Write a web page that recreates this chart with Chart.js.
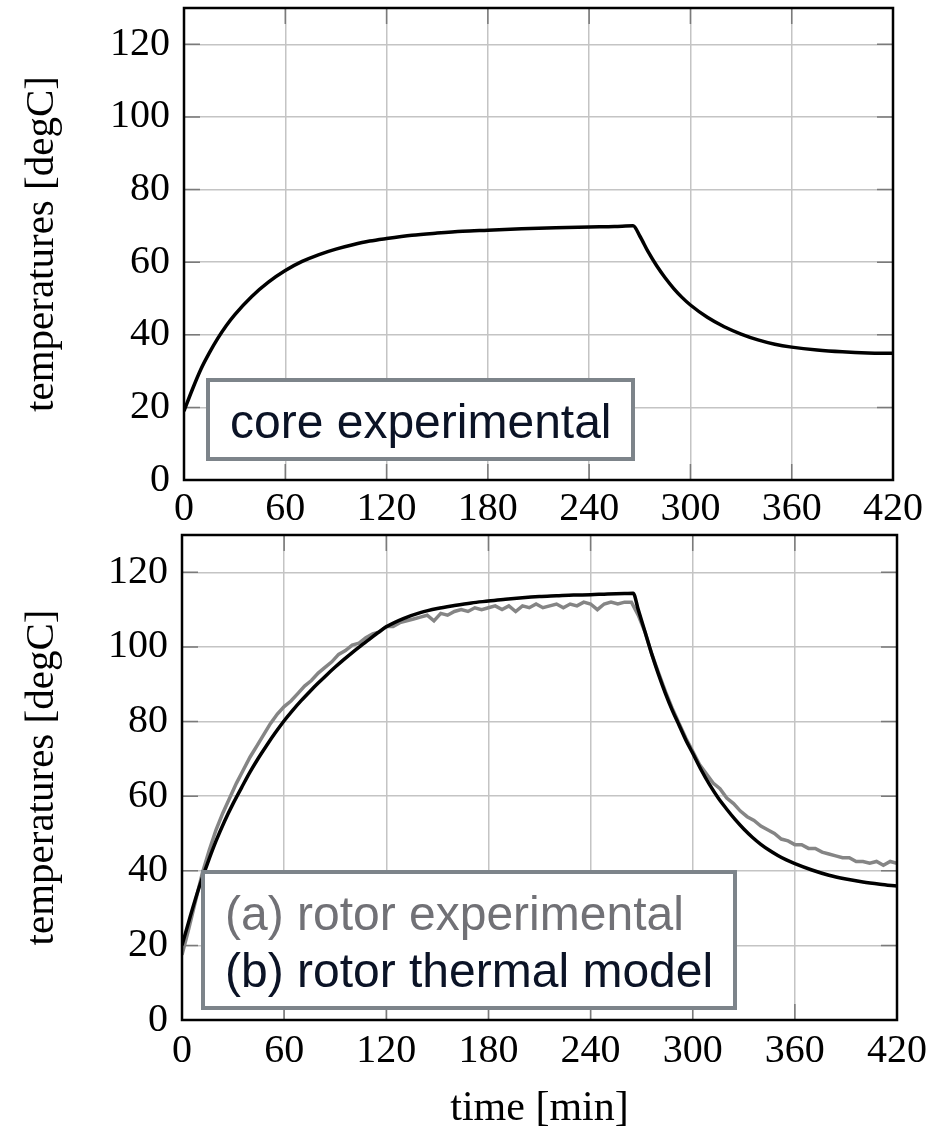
<!DOCTYPE html>
<html>
<head>
<meta charset="utf-8">
<script src="https://cdn.jsdelivr.net/npm/chart.js@4/dist/chart.umd.min.js"></script>
<style>
    body { margin: 0; background: #fff; }
    canvas { display: block; }
</style>
</head>
<body>
<canvas id="core-line-chart" width="946" height="530"></canvas>
<canvas id="rotor-line-chart" width="946" height="604"></canvas>
<script>
// core experimental (top plot)
const coreTime = [0, 5, 10, 15, 20, 25, 30, 40, 50, 60, 70, 80, 90, 100, 110, 120, 135, 150, 165, 180, 200, 220, 240, 255, 266,
    270, 275, 280, 285, 290, 295, 300, 310, 320, 330, 340, 350, 360, 375, 390, 405, 420]
const coreTemp = [19, 25, 30.5, 35, 39, 42.5, 45.5, 50.5, 54.5, 57.7, 60.2, 62.1, 63.6, 64.8, 65.8, 66.5, 67.4, 68, 68.5, 68.8, 69.2, 69.5, 69.7, 69.8, 70,
    67.2, 62.8, 59, 55.7, 52.8, 50.3, 48.2, 44.8, 42.2, 40.2, 38.6, 37.4, 36.6, 35.8, 35.3, 35, 34.9]

// rotor thermal model (bottom plot, black)
const modelTime = [0, 5, 10, 15, 20, 25, 30, 35, 40, 45, 50, 55, 60, 65, 70, 75, 80, 85, 90, 95, 100, 105, 110, 115, 120,
    130, 140, 150, 160, 170, 180, 190, 200, 210, 220, 230, 240, 250, 260, 265,
    268, 272, 276, 280, 284, 288, 292, 296, 300, 305, 310, 315, 320, 325, 330, 335, 340, 345, 350, 355, 360,
    370, 380, 390, 400, 410, 420]
const modelTemp = [20, 28, 35.5, 42, 48, 53.3, 58, 62.3, 66.5, 70.3, 73.8, 77.1, 80.2, 83, 85.6, 88, 90.3, 92.5, 94.6, 96.6, 98.5, 100.3, 102, 103.8, 105.4,
    107.6, 109.2, 110.3, 111.1, 111.8, 112.3, 112.8, 113.2, 113.5, 113.7, 113.9, 114, 114.2, 114.3, 114.4,
    110, 104, 98, 92.5, 87.5, 83, 79, 75, 71.5, 67, 63, 59.5, 56.5, 53.7, 51.2, 49, 47.1, 45.5, 44.1, 42.9, 41.9,
    40.2, 38.8, 37.8, 37, 36.4, 35.9]

// rotor experimental (bottom plot, grey), one sample every 4 min
const rotorTime = [0, 4, 8, 12, 16, 20, 24, 28, 32, 36, 40, 44, 48, 52, 56, 60, 64, 68, 72, 76, 80, 84, 88, 92, 96, 100,
    104, 108, 112, 116, 120, 124, 128, 132, 136, 140, 144, 148, 152, 156, 160, 164, 168, 172, 176, 180, 184, 188, 192, 196, 200,
    204, 208, 212, 216, 220, 224, 228, 232, 236, 240, 244, 248, 252, 256, 260, 264, 268, 272, 276, 280, 284, 288, 292, 296, 300,
    304, 308, 312, 316, 320, 324, 328, 332, 336, 340, 344, 348, 352, 356, 360, 364, 368, 372, 376, 380, 384, 388, 392, 396, 400,
    404, 408, 412, 416, 420]
const rotorTemp = [17.5, 24.5, 32, 39.5, 45.5, 51, 55.5, 59.5, 63.5, 67, 70.5, 73.5, 76.5, 79.5, 82, 84, 85.5, 87.5, 89.5, 91, 93, 94.5, 96, 98, 99, 100.5,
    101, 102.5, 103.5, 104, 105.5, 105.5, 106.5, 107, 107.5, 108, 108.5, 107, 109, 108.5, 109.5, 110, 109.5, 110.5, 110, 110.5, 111, 110, 111, 109.5, 111,
    110.5, 111.5, 110.5, 111, 111.5, 110.5, 111.5, 111, 112, 111.5, 110, 111.5, 112, 111.5, 112, 112, 108.5, 104, 98, 93, 88, 83.5, 79.5, 75.5, 72,
    68.5, 66, 63.5, 62, 59.5, 58, 56, 54.5, 53.5, 52, 51, 50, 48.5, 48, 47, 47, 46, 46, 45, 44.5, 44, 43.5, 43.5, 42.5, 42.5,
    42, 42.5, 41.5, 42.5, 42]

const serif = "'Liberation Serif', 'Times New Roman', serif"
const sans = "'Liberation Sans', Arial, sans-serif"

const toPoints = (xs, ys) => xs.map((x, i) => ({ x, y: ys[i] }))

// frame, inner tick marks and the boxed legend
const framePlugin = {
    id: 'frameBox',
    beforeDatasetsDraw(chart) {
        const { ctx, chartArea: a, scales } = chart
        ctx.save()
        ctx.strokeStyle = '#7a7a7a'
        ctx.lineWidth = 1.5
        ctx.beginPath()
        for (const t of scales.x.ticks) {
            const px = scales.x.getPixelForValue(t.value)
            ctx.moveTo(px, a.top); ctx.lineTo(px, a.top + 16)
            ctx.moveTo(px, a.bottom); ctx.lineTo(px, a.bottom - 16)
        }
        for (const t of scales.y.ticks) {
            const py = scales.y.getPixelForValue(t.value)
            ctx.moveTo(a.left, py); ctx.lineTo(a.left + 16, py)
            ctx.moveTo(a.right, py); ctx.lineTo(a.right - 16, py)
        }
        ctx.stroke()
        ctx.restore()
    },
    afterDatasetsDraw(chart, args, opts) {
        const { ctx, chartArea: a } = chart
        ctx.save()
        ctx.strokeStyle = '#000'
        ctx.lineWidth = 2.5
        ctx.strokeRect(a.left, a.top, a.right - a.left, a.bottom - a.top)

        const b = opts.box
        const left = a.left + b.dx
        const top = a.top + b.dy
        ctx.fillStyle = '#fff'
        ctx.fillRect(left, top, b.w, b.h)
        ctx.strokeStyle = '#7d848a'
        ctx.lineWidth = 4
        ctx.strokeRect(left, top, b.w, b.h)

        ctx.font = `48px ${sans}`
        ctx.textAlign = 'left'
        ctx.textBaseline = 'alphabetic'
        opts.lines.forEach((line, i) => {
            ctx.fillStyle = line.color
            ctx.fillText(line.text, left + 22, top + 58 + i * 57)
        })
        ctx.restore()
    }
}

const getLineChart = (selector, datasets, layout) => new Chart(document.querySelector(`#${selector}-line-chart`), {
    type: 'line',
    data: { datasets },
    plugins: [framePlugin],
    options: {
        responsive: false,
        animation: false,
        devicePixelRatio: 1,
        layout: { padding: { top: layout.top, right: layout.right, left: 0, bottom: 0 } },
        plugins: {
            legend: { display: false },
            tooltip: { enabled: false },
            frameBox: { box: layout.box, lines: layout.lines }
        },
        scales: {
            x: {
                type: 'linear',
                min: 0,
                max: 420,
                afterFit: scale => {
                    scale.height = layout.xHeight
                    scale.paddingLeft = 0
                    scale.paddingRight = 0
                },
                border: { display: false },
                grid: { color: '#c4c4c4', lineWidth: 1.5, drawTicks: false },
                ticks: { stepSize: 60, padding: layout.xPad, color: '#000', font: { family: serif, size: 40 }, maxRotation: 0 },
                title: {
                    display: !!layout.xTitle,
                    text: layout.xTitle,
                    color: '#000',
                    padding: { top: 0, bottom: 0 },
                    font: { family: serif, size: 42 }
                }
            },
            y: {
                min: 0,
                max: 130,
                afterFit: scale => {
                    scale.width = layout.yWidth
                    scale.paddingTop = 0
                    scale.paddingBottom = 0
                },
                border: { display: false },
                grid: { color: '#c4c4c4', lineWidth: 1.5, drawTicks: false },
                ticks: { stepSize: 20, includeBounds: false, padding: 14, color: '#000', font: { family: serif, size: 40 } },
                title: {
                    display: true,
                    text: 'temperatures [degC]',
                    color: '#000',
                    padding: { top: 18, bottom: 0 },
                    font: { family: serif, size: 41 }
                }
            }
        }
    }
})

getLineChart('core', [
    {
        data: toPoints(coreTime, coreTemp),
        borderColor: '#000',
        borderWidth: 3.5,
        pointRadius: 0,
        cubicInterpolationMode: 'monotone'
    }
], {
    top: 8, right: 53, yWidth: 184, xHeight: 50, xPad: 5,
    box: { dx: 24, dy: 372, w: 425, h: 79 },
    lines: [{ text: 'core experimental', color: '#0b1326' }]
})

getLineChart('rotor', [
    {
        data: toPoints(modelTime, modelTemp),
        borderColor: '#000',
        borderWidth: 3.5,
        pointRadius: 0,
        cubicInterpolationMode: 'monotone'
    },
    {
        data: toPoints(rotorTime, rotorTemp),
        borderColor: '#858585',
        borderWidth: 3.5,
        pointRadius: 0
    }
], {
    top: 5, right: 49, yWidth: 182, xHeight: 114, xPad: 7, xTitle: 'time [min]',
    box: { dx: 21, dy: 337, w: 532, h: 136 },
    lines: [
        { text: '(a) rotor experimental', color: '#717176' },
        { text: '(b) rotor thermal model', color: '#0b1326' }
    ]
})
</script>
</body>
</html>
